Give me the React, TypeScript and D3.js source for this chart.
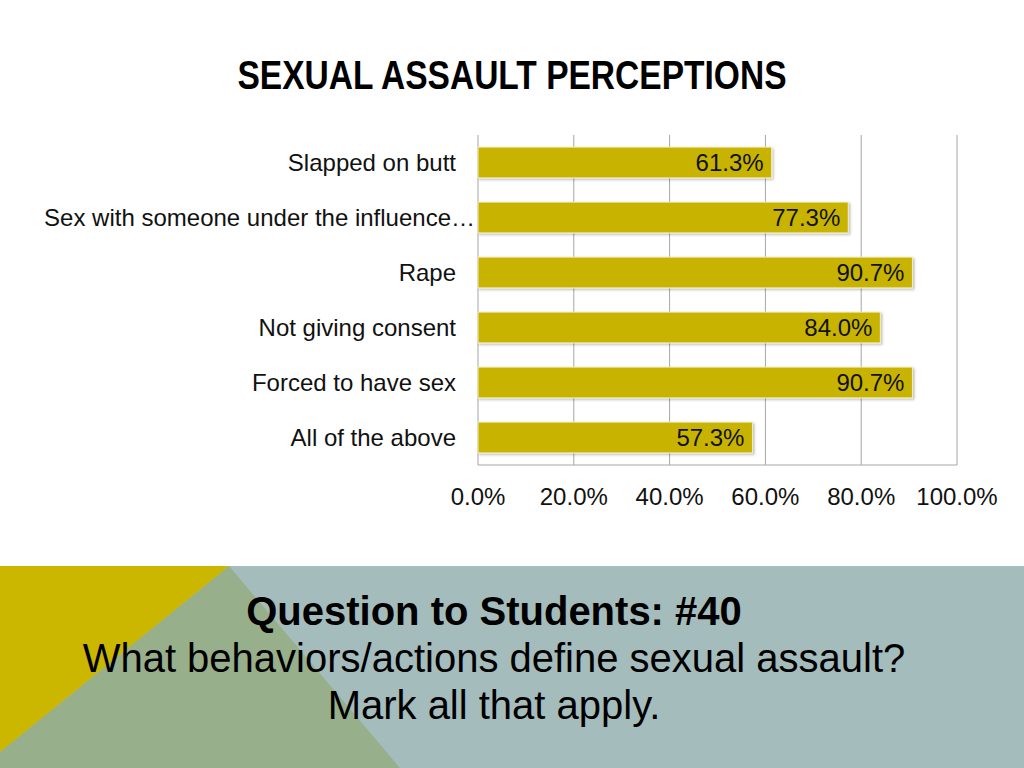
import * as d3 from "d3"

const categories = [
  "Slapped on butt",
  "Sex with someone under the influence…",
  "Rape",
  "Not giving consent",
  "Forced to have sex",
  "All of the above",
]
const values = [61.3, 77.3, 90.7, 84.0, 90.7, 57.3]
const xTicks = [0, 20, 40, 60, 80, 100]
const questionLines = [
  "What behaviors/actions define sexual assault?",
  "Mark all that apply.",
]

const W = 1024
const H = 768
const BAR = "#c8b400"
const GRID = "#a6a6a6"
const LABEL_FONT = "'Liberation Sans', Arial, sans-serif"

export default function App() {
  const x = d3.scaleLinear().domain([0, 100]).range([478, 957])
  const y = d3
    .scaleBand<string>()
    .domain(categories)
    .range([135, 465])
    .paddingInner(0.44)
    .paddingOuter(0.22)

  return (
    <svg
      width={W}
      height={H}
      viewBox={`0 0 ${W} ${H}`}
      style={{ position: "fixed", left: 0, top: 0, display: "block", background: "#fff" }}
    >
      <defs>
        <filter id="barShadow" x="-5%" y="-30%" width="110%" height="160%">
          <feDropShadow dx={1.5} dy={1.5} stdDeviation={1.2} floodColor="#000" floodOpacity={0.25} />
        </filter>
      </defs>

      <text
        x={W / 2}
        y={89}
        textAnchor="middle"
        fontFamily="'Liberation Sans Narrow', 'Arial Narrow', sans-serif"
        fontWeight={700}
        fontSize={40}
        textLength={549}
        lengthAdjust="spacingAndGlyphs"
        fill="#000"
      >
        SEXUAL ASSAULT PERCEPTIONS
      </text>

      {/* gridlines */}
      <g>
        {xTicks.map((t) => (
          <line key={t} x1={x(t)} x2={x(t)} y1={135} y2={465} stroke={GRID} strokeWidth={1} />
        ))}
        <line x1={x(0)} x2={x(100)} y1={465} y2={465} stroke={GRID} strokeWidth={1} />
      </g>

      {/* bars */}
      <g>
        {categories.map((c, i) => (
          <rect
            key={c}
            x={x(0)}
            y={y(c)}
            width={x(values[i]) - x(0)}
            height={y.bandwidth()}
            fill={BAR}
            stroke="#f3ecc0"
            strokeWidth={1}
            filter="url(#barShadow)"
          />
        ))}
        {categories.map((c, i) => (
          <text
            key={c}
            x={x(values[i]) - 8}
            y={(y(c) ?? 0) + y.bandwidth() / 2 + 8.5}
            textAnchor="end"
            fontFamily={LABEL_FONT}
            fontSize={24}
            fill="#111"
          >
            {values[i].toFixed(1)}%
          </text>
        ))}
      </g>

      {/* category labels */}
      <g>
        {categories.map((c, i) => (
          <text
            key={c}
            x={i === 1 ? 475 : 456}
            y={(y(c) ?? 0) + y.bandwidth() / 2 + 8}
            textAnchor="end"
            fontFamily={LABEL_FONT}
            fontSize={24}
            fill="#111"
          >
            {c}
          </text>
        ))}
      </g>

      {/* x tick labels */}
      <g>
        {xTicks.map((t) => (
          <text
            key={t}
            x={x(t)}
            y={505}
            textAnchor="middle"
            fontFamily={LABEL_FONT}
            fontSize={24}
            fill="#111"
          >
            {t.toFixed(1)}%
          </text>
        ))}
      </g>

      {/* bottom panel */}
      <rect x={0} y={566} width={W} height={H - 566} fill="#a5bcbd" />
      <polygon points="229,566 400,768 0,768 0,752" fill="#98af8b" />
      <polygon points="0,566 229,566 0,752" fill="#cbb700" />

      <text
        x={494}
        y={625}
        textAnchor="middle"
        fontFamily={LABEL_FONT}
        fontWeight={700}
        fontSize={40}
        fill="#000"
      >
        Question to Students: #40
      </text>
      {questionLines.map((l, i) => (
        <text
          key={l}
          x={494}
          y={672 + i * 47}
          textAnchor="middle"
          fontFamily={LABEL_FONT}
          fontSize={40}
          fill="#000"
        >
          {l}
        </text>
      ))}
    </svg>
  )
}
